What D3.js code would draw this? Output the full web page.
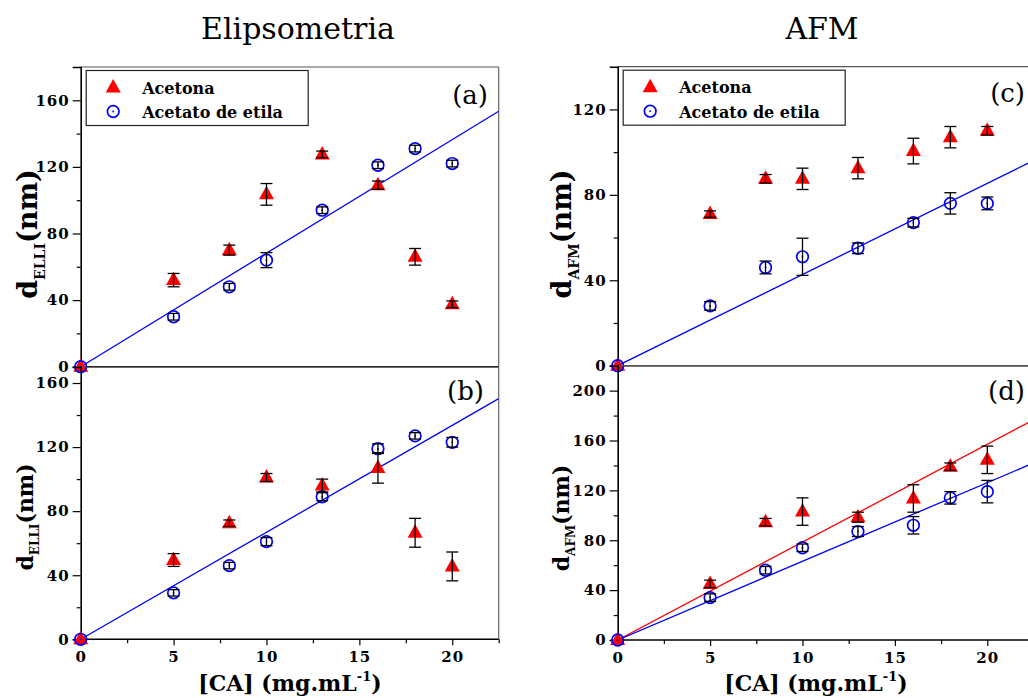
<!DOCTYPE html>
<html>
<head>
<meta charset="utf-8">
<script src="https://cdn.jsdelivr.net/npm/d3@7"></script>
<style>
  html, body { margin: 0; padding: 0; background: #fff; }
  svg { display: block; }
  text { font-family: "DejaVu Serif", serif; }
</style>
</head>
<body>
<svg id="chart" width="1028" height="698"></svg>
<script>
// ---------------- DATA ----------------
const concentrations = [0, 5, 8, 10, 13, 16, 18, 20];   // [CA] (mg.mL-1)
const seriesNames = ["Acetona", "Acetato de etila"];
const columnTitles = ["Elipsometria", "AFM"];
const panelLabels = ["(a)", "(b)", "(c)", "(d)"];

// (a) Elipsometria
const aAcetona      = [0, 52, 70, 103.5, 127.5, 109, 66, 37.5];
const aAcetonaErr   = [0, 4, 3, 6.5, 2, 2.5, 5, 2];
const aAcetato      = [0, 30, 48, 64, 94, 121, 131, 122];
const aAcetatoErr   = [0, 2, 2, 4.5, 2, 2, 2, 2];
// (b) Elipsometria
const bAcetona      = [0, 49.5, 72.5, 101, 96, 107, 66.5, 45.5];
const bAcetonaErr   = [0, 4, 2, 2.5, 4, 9.5, 9, 9];
const bAcetato      = [0, 29, 46, 61, 89, 119, 127, 123];
const bAcetatoErr   = [0, 2, 2, 2.5, 2.5, 3, 2, 3];
// (c) AFM
const cAcetona      = [0, 71, 87.5, 87.5, 92.5, 100.5, 107, 110];
const cAcetonaErr   = [0, 1.5, 2, 5, 5, 6, 5, 2];
const cAcetato      = [0, 28, 46, 51, 55, 67, 76, 76];
const cAcetatoErr   = [0, 2, 3, 8.7, 2.5, 2, 5, 3];
// (d) AFM
const dAcetona      = [0, 45, 94.5, 103, 98.5, 113.5, 139, 144.5];
const dAcetonaErr   = [0, 3, 3, 11, 4, 11, 3, 11];
const dAcetato      = [0, 34, 56, 74, 87, 92, 114, 119];
const dAcetatoErr   = [0, 3, 3, 3, 4, 7, 5, 9];

// linear fits through origin (slope, nm per mg.mL-1); null = no fit line
const fitSlopesAcetona = [null, null, null, 7.85];
const fitSlopesAcetato = [6.82, 6.68, 4.27, 6.31];

// axis ticks
const xTicks = [0, 5, 10, 15, 20];
const xMinorTicks = [2.5, 7.5, 12.5, 17.5, 22.5];
const xDomain = [0, 22.5];
const yDomains = [[0, 180], [0, 170], [0, 140], [0, 220]];
const yTicksA = [0, 40, 80, 120, 160];
const yTicksC = [0, 40, 80, 120];
const yTicksD = [0, 40, 80, 120, 160, 200];

// ---------------- LAYOUT ----------------
const svg = d3.select("#chart");
const RED = "#ff0000", BLUE = "#0000ff";

const panels = [
  { lab: panelLabels[0], x0: 80.7, x1: 498.7, y0: 67, y1: 366.7, yDom: yDomains[0], yTicks: yTicksA,
    ac: aAcetona, acE: aAcetonaErr, at: aAcetato, atE: aAcetatoErr, fitR: fitSlopesAcetona[0], fitB: fitSlopesAcetato[0],
    xLabels: false, legend: true, big: true, sub: "ELLI", ylx: 37, yly: 234, labX: 488, labY: 104 },
  { lab: panelLabels[1], x0: 80.7, x1: 498.7, y0: 367, y1: 639.3, yDom: yDomains[1], yTicks: yTicksA,
    ac: bAcetona, acE: bAcetonaErr, at: bAcetato, atE: bAcetatoErr, fitR: fitSlopesAcetona[1], fitB: fitSlopesAcetato[1],
    xLabels: true, xlCenter: 290, legend: false, big: false, sub: "ELLI", ylx: 33, yly: 517, labX: 484, labY: 400 },
  { lab: panelLabels[2], x0: 617.7, x1: 1033.5, y0: 66.7, y1: 365.7, yDom: yDomains[2], yTicks: yTicksC,
    ac: cAcetona, acE: cAcetonaErr, at: cAcetato, atE: cAcetatoErr, fitR: fitSlopesAcetona[2], fitB: fitSlopesAcetato[2],
    xLabels: false, legend: true, big: true, sub: "AFM", ylx: 571, yly: 234, labX: 1025, labY: 102 },
  { lab: panelLabels[3], x0: 617.7, x1: 1033.5, y0: 365.7, y1: 640, yDom: yDomains[3], yTicks: yTicksD,
    ac: dAcetona, acE: dAcetonaErr, at: dAcetato, atE: dAcetatoErr, fitR: fitSlopesAcetona[3], fitB: fitSlopesAcetato[3],
    xLabels: true, xlCenter: 816, legend: false, big: false, sub: "AFM", ylx: 569, yly: 518, labX: 1025, labY: 400 }
];

const triPath = "M0,-8.5L7.5,5L-7.5,5Z";

// column titles
svg.append("text").attr("x", 298).attr("y", 39).attr("text-anchor", "middle")
  .style("font-size", "30px").text(columnTitles[0]);
svg.append("text").attr("x", 822).attr("y", 39).attr("text-anchor", "middle")
  .style("font-size", "30px").text(columnTitles[1]);

panels.forEach((p, i) => {
  const x = d3.scaleLinear().domain(xDomain).range([p.x0, p.x1]);
  const y = d3.scaleLinear().domain(p.yDom).range([p.y1, p.y0]);
  const g = svg.append("g");

  const clipId = "clip" + i;
  svg.append("clipPath").attr("id", clipId).append("rect")
    .attr("x", p.x0).attr("y", p.y0).attr("width", p.x1 - p.x0).attr("height", p.y1 - p.y0);

  // frame (top / right in grey)
  g.append("line").attr("x1", p.x0).attr("x2", p.x1).attr("y1", p.y0).attr("y2", p.y0)
    .attr("stroke", "#555").attr("stroke-width", 1.2);
  g.append("line").attr("x1", p.x1).attr("x2", p.x1).attr("y1", p.y0).attr("y2", p.y1)
    .attr("stroke", "#666").attr("stroke-width", 1.2);

  // y axis
  const yMinor = d3.range(p.yDom[0] + 20, p.yDom[1], 40);
  const yAxis = g.append("g").attr("transform", `translate(${p.x0},0)`)
    .call(d3.axisLeft(y).tickValues(p.yTicks).tickSize(8).tickPadding(3).tickFormat(d3.format("d")));
  yAxis.select(".domain").attr("stroke-width", 1.6);
  yAxis.selectAll("text").style("font-size", "15px").style("font-weight", "bold")
    .style("letter-spacing", "1px").attr("fill", "#000");
  yAxis.selectAll("line").attr("stroke-width", 1.2);
  g.append("g").attr("transform", `translate(${p.x0},0)`)
    .call(d3.axisLeft(y).tickValues(yMinor).tickSize(4).tickFormat(""))
    .call(s => s.select(".domain").remove())
    .selectAll("line").attr("stroke-width", 1.2);

  // x axis
  const xAxis = g.append("g").attr("transform", `translate(0,${p.y1})`)
    .call(d3.axisBottom(x).tickValues(p.xLabels ? xTicks : []).tickSize(6).tickPadding(6)
      .tickFormat(p.xLabels ? d3.format("d") : ""));
  xAxis.select(".domain").attr("stroke-width", 1.6).attr("d", `M${p.x0},0H${p.x1}`);
  xAxis.selectAll("text").style("font-size", "15px").style("font-weight", "bold")
    .style("letter-spacing", "1px").attr("fill", "#000");
  xAxis.selectAll("line").attr("stroke-width", 1.2);
  if (p.xLabels) {
    g.append("g").attr("transform", `translate(0,${p.y1})`)
      .call(d3.axisBottom(x).tickValues(xMinorTicks).tickSize(4).tickFormat(""))
      .call(s => s.select(".domain").remove())
      .selectAll("line").attr("stroke-width", 1.2);
  }

  // fit lines
  const fits = g.append("g").attr("clip-path", `url(#${clipId})`);
  [[p.fitR, RED], [p.fitB, BLUE]].forEach(([slope, col]) => {
    if (slope == null) return;
    fits.append("path")
      .datum(xDomain.map(v => [v, slope * v]))
      .attr("d", d3.line().x(d => x(d[0])).y(d => y(d[1])))
      .attr("fill", "none").attr("stroke", col).attr("stroke-width", 1.3);
  });

  // markers
  const acData = concentrations.map((c, k) => ({ c, v: p.ac[k], e: p.acE[k] }));
  const atData = concentrations.map((c, k) => ({ c, v: p.at[k], e: p.atE[k] }));

  g.selectAll(".tri").data(acData).join("path")
    .attr("transform", d => `translate(${x(d.c)},${y(d.v)})`)
    .attr("d", triPath).attr("fill", RED);
  const circ = g.selectAll(".circ").data(atData).join("g")
    .attr("transform", d => `translate(${x(d.c)},${y(d.v)})`);
  circ.append("circle").attr("r", 5.8).attr("fill", "none").attr("stroke", BLUE).attr("stroke-width", 1.7);
  circ.append("circle").attr("r", 0.9).attr("fill", BLUE);

  // error bars (drawn on top)
  const errG = g.append("g").attr("stroke", "#000").attr("stroke-width", 1.3);
  [acData, atData].forEach(data => {
    data.filter(d => d.e > 0).forEach(d => {
      const cx = x(d.c);
      errG.append("line").attr("x1", cx).attr("x2", cx).attr("y1", y(d.v - d.e)).attr("y2", y(d.v + d.e));
      errG.append("line").attr("x1", cx - 6).attr("x2", cx + 6).attr("y1", y(d.v - d.e)).attr("y2", y(d.v - d.e));
      errG.append("line").attr("x1", cx - 6).attr("x2", cx + 6).attr("y1", y(d.v + d.e)).attr("y2", y(d.v + d.e));
    });
  });

  // panel label
  svg.append("text").attr("x", p.labX).attr("y", p.labY).attr("text-anchor", "end")
    .style("font-size", "26px").text(p.lab);

  // y label
  const fs = p.big ? 27 : 22, fsSub = p.big ? 14 : 12;
  const yl = svg.append("text")
    .attr("transform", `translate(${p.ylx},${p.yly}) rotate(-90)`)
    .attr("text-anchor", "middle").style("font-weight", "bold");
  yl.append("tspan").style("font-size", fs + "px").text("d");
  yl.append("tspan").style("font-size", fsSub + "px").attr("dy", fs * 0.28).text(p.sub);
  yl.append("tspan").style("font-size", fs + "px").attr("dy", -fs * 0.28).text("(nm)");

  // x label
  if (p.xLabels) {
    const xl = svg.append("text").attr("x", p.xlCenter)
      .attr("y", 691).attr("text-anchor", "middle").style("font-weight", "bold").style("font-size", "22px");
    xl.append("tspan").text("[CA] (mg.mL");
    xl.append("tspan").style("font-size", "13px").attr("dy", -10).text("-1");
    xl.append("tspan").attr("dy", 10).text(")");
  }

  // legend
  if (p.legend) {
    const lx = p.x0 + 5.5, ly = p.y0 + 3.5;
    const lg = svg.append("g").attr("transform", `translate(${lx},${ly})`);
    lg.append("rect").attr("width", 222).attr("height", 55).attr("fill", "#fff")
      .attr("stroke", "#222").attr("stroke-width", 1.2);
    lg.append("path").attr("d", triPath).attr("transform", "translate(27,17)").attr("fill", RED);
    lg.append("circle").attr("cx", 27).attr("cy", 41).attr("r", 5.8).attr("fill", "none")
      .attr("stroke", BLUE).attr("stroke-width", 1.7);
    lg.append("circle").attr("cx", 27).attr("cy", 41).attr("r", 0.9).attr("fill", BLUE);
    lg.selectAll(".lt").data(seriesNames).join("text")
      .attr("x", 56).attr("y", (d, k) => 23 + k * 24.5)
      .style("font-size", "16px").style("font-weight", "bold").text(d => d);
  }
});
</script>
</body>
</html>
